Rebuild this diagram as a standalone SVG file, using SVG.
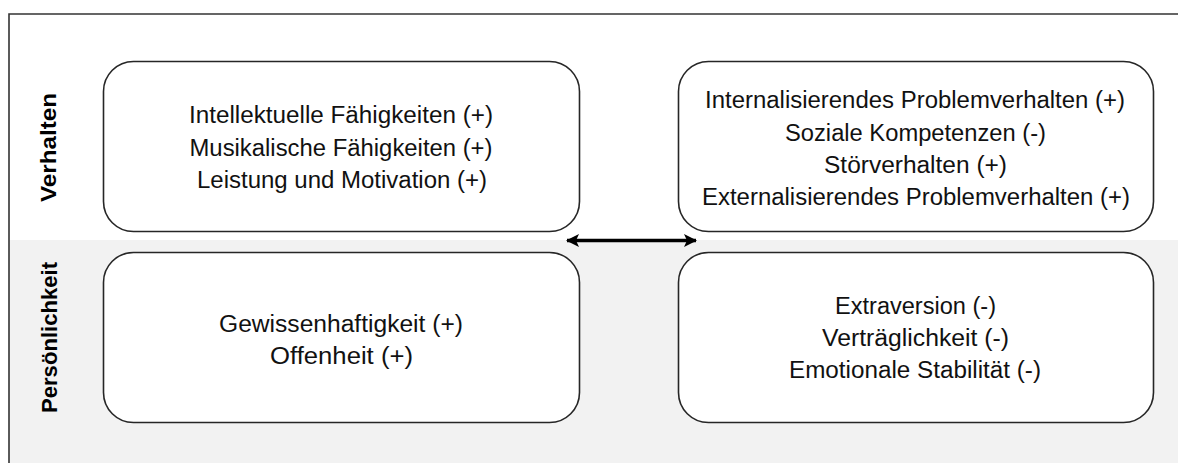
<svg xmlns="http://www.w3.org/2000/svg" width="1178" height="463" viewBox="0 0 1178 463">
<style>
.box{fill:#ffffff;stroke:#262626;stroke-width:1.6}
.t{font-family:"Liberation Sans",Arial,sans-serif;font-size:23px;fill:#111111;text-anchor:middle}
.lab{font-family:"Liberation Sans",Arial,sans-serif;font-size:22px;font-weight:bold;fill:#000000;text-anchor:middle}
.frame{stroke:#333333;stroke-width:1.6;fill:none}
</style>
<defs>
<marker id="ah" markerUnits="userSpaceOnUse" markerWidth="14" markerHeight="14" refX="12" refY="7" orient="auto-start-reverse">
<path d="M0,0.5 L13,7 L0,13.5 L3,7 z" fill="#000000"/>
</marker>
</defs>
<rect x="0" y="0" width="1178" height="463" fill="#ffffff"/>
<rect x="9" y="240" width="1169" height="223" fill="#f2f2f2"/>
<path class="frame" d="M9,463 L9,14 L1178,14"/>
<g id="label-verhalten"><text class="lab" transform="translate(56,147.5) rotate(-90)" textLength="109" lengthAdjust="spacingAndGlyphs">Verhalten</text></g>
<g id="label-persoenlichkeit"><text class="lab" transform="translate(57,337.5) rotate(-90)" textLength="151" lengthAdjust="spacingAndGlyphs">Persönlichkeit</text></g>
<g id="node-verhalten-positiv">
<rect class="box" x="103.5" y="61.5" width="476" height="170" rx="30" ry="30"/>
<text class="t" x="341" y="123" textLength="304" lengthAdjust="spacingAndGlyphs">Intellektuelle Fähigkeiten (+)</text>
<text class="t" x="341" y="155.5" textLength="303" lengthAdjust="spacingAndGlyphs">Musikalische Fähigkeiten (+)</text>
<text class="t" x="342" y="188" textLength="290" lengthAdjust="spacingAndGlyphs">Leistung und Motivation (+)</text>
</g>
<g id="node-verhalten-negativ">
<rect class="box" x="678.5" y="61.5" width="475" height="170" rx="30" ry="30"/>
<text class="t" x="915" y="108" textLength="420" lengthAdjust="spacingAndGlyphs">Internalisierendes Problemverhalten (+)</text>
<text class="t" x="915.5" y="140.5" textLength="261" lengthAdjust="spacingAndGlyphs">Soziale Kompetenzen (-)</text>
<text class="t" x="915.5" y="172.5" textLength="183" lengthAdjust="spacingAndGlyphs">Störverhalten (+)</text>
<text class="t" x="916" y="205" textLength="428" lengthAdjust="spacingAndGlyphs">Externalisierendes Problemverhalten (+)</text>
</g>
<g id="node-persoenlichkeit-positiv">
<rect class="box" x="103.5" y="252.5" width="476" height="170" rx="30" ry="30"/>
<text class="t" x="341" y="332" textLength="244" lengthAdjust="spacingAndGlyphs">Gewissenhaftigkeit (+)</text>
<text class="t" x="341.5" y="363.5" textLength="143" lengthAdjust="spacingAndGlyphs">Offenheit (+)</text>
</g>
<g id="node-persoenlichkeit-negativ">
<rect class="box" x="678.5" y="252.5" width="475" height="170" rx="30" ry="30"/>
<text class="t" x="915.5" y="314" textLength="161" lengthAdjust="spacingAndGlyphs">Extraversion (-)</text>
<text class="t" x="915.5" y="346" textLength="187" lengthAdjust="spacingAndGlyphs">Verträglichkeit (-)</text>
<text class="t" x="915" y="378" textLength="252" lengthAdjust="spacingAndGlyphs">Emotionale Stabilität (-)</text>
</g>
<g id="connectors">
<line x1="567" y1="240.5" x2="696" y2="240.5" stroke="#000000" stroke-width="3.5" marker-start="url(#ah)" marker-end="url(#ah)"/>
</g>
</svg>
